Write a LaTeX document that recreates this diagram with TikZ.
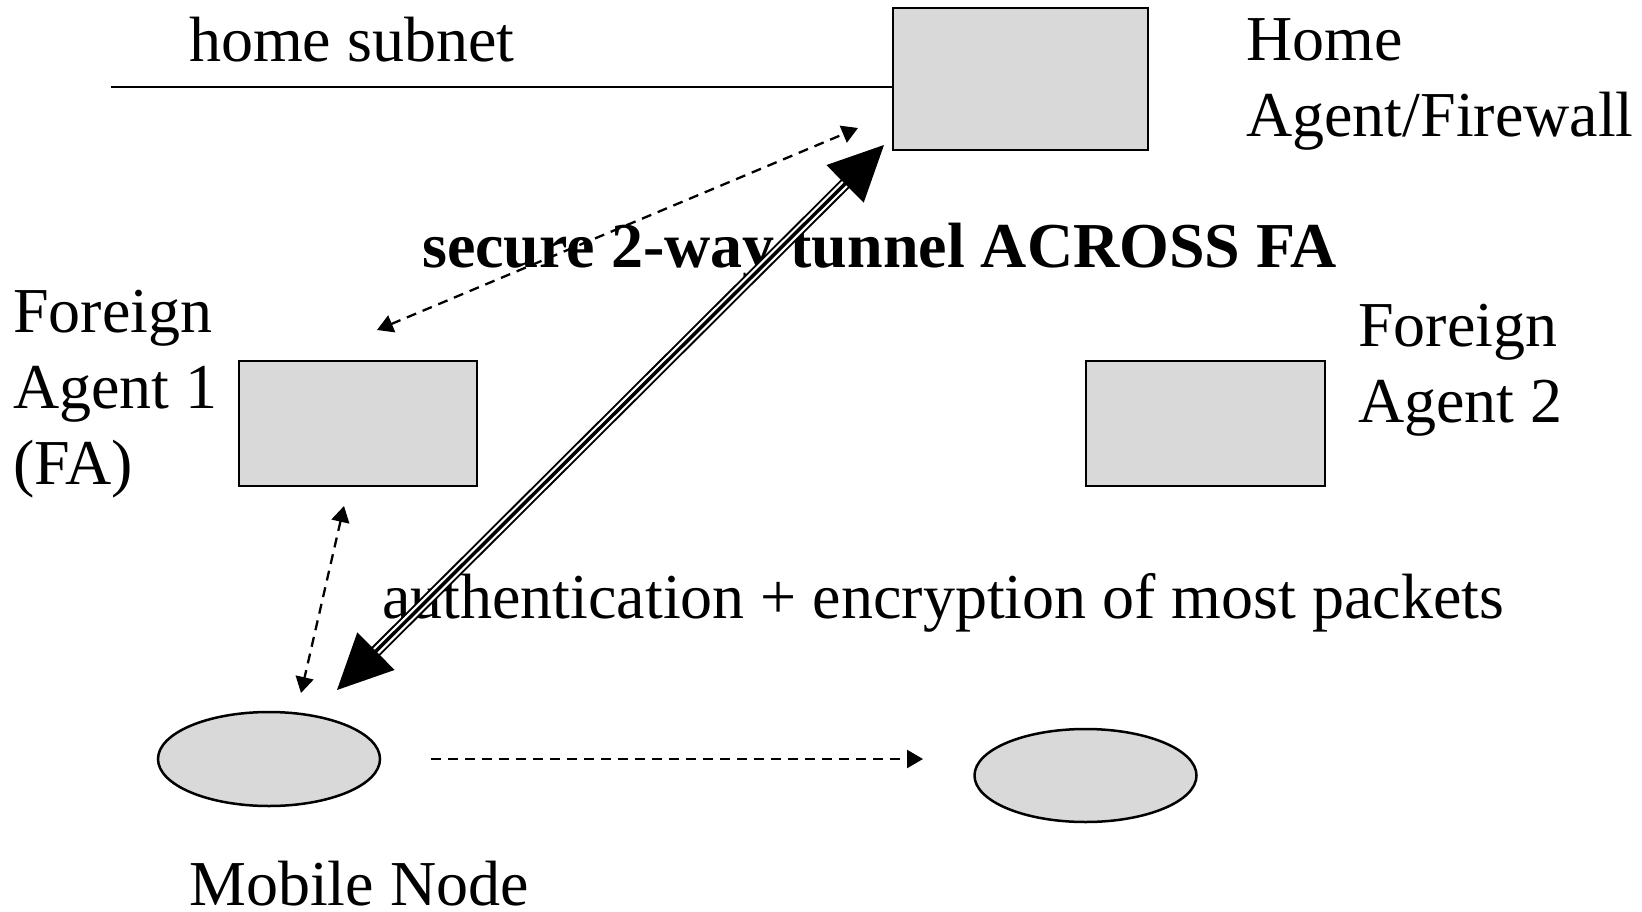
\documentclass[tikz,border=0pt]{standalone}
\usepackage{fontspec}
\setmainfont{Liberation Serif}
\usetikzlibrary{arrows.meta,calc,shapes.geometric}

\tikzset{
  agentbox/.style={draw=black, fill=boxgray, line width=2.5pt, inner sep=0pt, rectangle},
  hostshape/.style={draw=black, fill=boxgray, line width=2.5pt, inner sep=0pt, ellipse},
  lbl/.style={inner sep=0pt, anchor=base west, align=left,
              font=\fontsize{64pt}{76pt}\selectfont},
  signal/.style={line width=2.3pt, dash pattern=on 10pt off 7pt,
                 {Triangle[length=16pt,width=18pt]}-{Triangle[length=16pt,width=18pt]}},
  move/.style={line width=2.3pt, dash pattern=on 10pt off 7pt,
               -{Triangle[length=16pt,width=18pt]}},
}
\definecolor{boxgray}{RGB}{217,217,217}

\begin{document}
\begin{tikzpicture}[x=1pt, y=-1pt]
  \useasboundingbox (0,0) rectangle (1642,911);

  % agents and hosts
  \node[agentbox, minimum width=255pt, minimum height=142pt] (home) at (1020.5,79) {};
  \node[agentbox, minimum width=238pt, minimum height=125pt] (fa1) at (358,423.5) {};
  \node[agentbox, minimum width=239pt, minimum height=125pt] (fa2) at (1205.5,423.5) {};
  \node[hostshape, minimum width=222pt, minimum height=94pt] (mn) at (269,759) {};
  \node[hostshape, minimum width=222pt, minimum height=93pt] (mnnew) at (1085.5,775.5) {};

  % home subnet wire
  \coordinate (subnetend) at (111,87);
  \draw[line width=2.5pt] (subnetend) -- (home.west |- subnetend);

  % labels (base anchor sits on the last line of a multi-line label)
  \node[lbl] (lsubnet) at (189,61) {home subnet};
  \node[lbl] (lhome) at (1246,136) {Home\\Agent/Firewall};
  \node[lbl] (lfa1) at (13,484) {Foreign\\Agent 1\\(FA)};
  \node[lbl] (lfa2) at (1358,422) {Foreign\\Agent 2};
  \node[lbl, font=\fontsize{64pt}{76pt}\selectfont\bfseries] (ltunnel) at (422,267) {secure 2-way tunnel ACROSS FA};
  \node[lbl] (lauth) at (382,618) {authentication + encryption of most packets};
  \node[lbl, text depth=0pt] (lmn) at (189,905) {Mobile Node};

  % registration signalling
  \coordinate (sigA) at (377,330);
  \coordinate (sigB) at (858,128);
  \draw[signal] (sigA) -- (sigB);
  \coordinate (sigC) at (344,506);
  \coordinate (sigD) at (301,693);
  \draw[signal] (sigC) -- (sigD);

  % movement of the mobile node
  \coordinate (moveA) at (431,759);
  \coordinate (moveB) at (923,759);
  \draw[move] (moveA) -- (moveB);

  % secure tunnel: triple line with two large heads
  \coordinate (tunA) at (337,690);
  \coordinate (tunB) at (884,145);
  \draw[line width=12pt, shorten <=45pt, shorten >=45pt] (tunA) -- (tunB);
  \draw[white, line width=8pt, shorten <=45pt, shorten >=45pt] (tunA) -- (tunB);
  \draw[line width=3.5pt, shorten <=45pt, shorten >=45pt] (tunA) -- (tunB);
  \fill (tunB) -- ($(tunB)!61.05pt!25.7:(tunA)$) -- ($(tunB)!61.05pt!-25.7:(tunA)$) -- cycle;
  \fill (tunA) -- ($(tunA)!61.05pt!25.7:(tunB)$) -- ($(tunA)!61.05pt!-25.7:(tunB)$) -- cycle;
\end{tikzpicture}
\end{document}
